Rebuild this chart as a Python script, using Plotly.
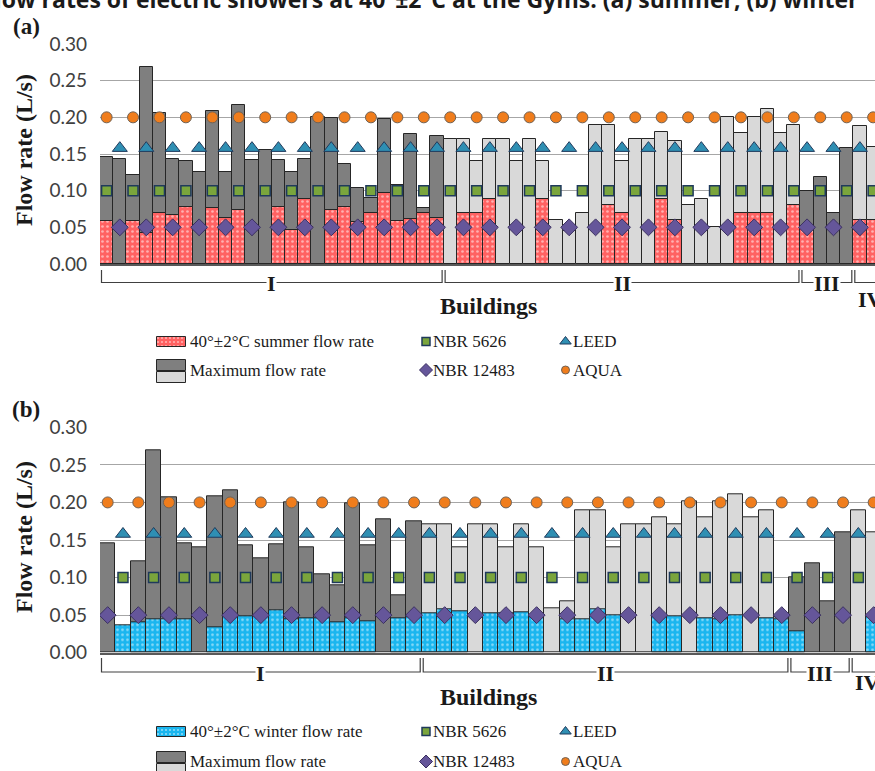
import plotly.graph_objects as go

W, H = 875, 771

# ---------------- data ----------------
buildings = ["I", "II", "III", "IV"]

# (a) summer
summer_counts = [26, 27, 4, 2]
summer_40 = [0.059, None, 0.059, 0.042, 0.070, 0.067, 0.078, None, 0.076, 0.063, 0.074, None, None,
             0.078, 0.046, 0.088, None, 0.074, 0.078, 0.057, 0.070, 0.097, 0.059, 0.061, 0.070, 0.063,
             None, 0.070, 0.070, 0.089, None, None, None, 0.089, None, None, None, None, 0.080, 0.069,
             None, None, 0.088, 0.060, None, None, None, None, 0.069, 0.069, 0.069, None, 0.080,
             0.051, None, None, None,
             0.060, 0.060]
summer_max = [0.146, 0.143, 0.121, 0.268, 0.206, 0.143, 0.140, 0.125, 0.208, 0.125, 0.217, 0.142, 0.156,
              0.142, 0.125, 0.143, 0.201, 0.199, 0.137, 0.104, 0.090, 0.198, 0.108, 0.177, 0.077, 0.175,
              0.170, 0.170, 0.140, 0.170, 0.170, 0.140, 0.170, 0.140, 0.060, 0.045, 0.070, 0.189, 0.189,
              0.140, 0.170, 0.170, 0.180, 0.168, 0.080, 0.088, 0.051, 0.200, 0.179, 0.200, 0.211, 0.179, 0.189,
              0.099, 0.118, 0.070, 0.158,
              0.188, 0.160]

# (b) winter
winter_counts = [21, 24, 4, 2]
winter_40 = [None, 0.036, 0.040, 0.044, 0.044, 0.044, None, 0.034, 0.050, 0.048, 0.048, 0.056, 0.045,
             0.046, 0.046, 0.040, 0.046, 0.042, None, 0.046, 0.047,
             0.052, 0.058, 0.055, None, 0.052, 0.053, 0.054, 0.047, None, 0.044, 0.044, 0.058, 0.050,
             None, None, 0.048, 0.048, None, 0.046, 0.045, 0.050, None, 0.046, 0.045,
             0.028, None, None, None,
             None, 0.047]
winter_max = [0.145, None, 0.121, 0.269, 0.207, 0.145, 0.140, 0.208, 0.216, 0.143, 0.125, 0.144, 0.200,
              0.140, 0.105, 0.090, 0.199, 0.143, 0.178, 0.077, 0.175,
              0.171, 0.171, 0.140, 0.171, 0.171, 0.140, 0.171, 0.140, 0.059, 0.069, 0.190, 0.190, 0.140,
              0.171, 0.171, 0.180, 0.171, 0.201, 0.180, 0.201, 0.211, 0.180, 0.190, 0.047,
              0.100, 0.119, 0.069, 0.160,
              0.190, 0.160]

# reference standards (L/s)
standards = {"NBR 5626": 0.10, "LEED": 0.158, "NBR 12483": 0.05, "AQUA": 0.20}

# ---------------- styles ----------------
RED = "#ff6262"
BLUE = "#1ab6ef"
DARK = "#7f7f7f"
LIGHT = "#d9d9d9"
EDGE = "#262626"
SERIF = "Liberation Serif"

MSTYLE = {
    "AQUA": dict(symbol="circle", size=11, color="#f07d1c", line=dict(color="#6f6256", width=1)),
    "LEED": dict(symbol="triangle-up", size=13, color="#2f8fb3", line=dict(color="#1f3a5c", width=1)),
    "NBR 5626": dict(symbol="square", size=10, color="#7aa53c", line=dict(color="#1f3a5c", width=1.5)),
    "NBR 12483": dict(symbol="diamond", size=13, color="#65569a", line=dict(color="#3b3060", width=1)),
}
LEG_SIZE = {"AQUA": 8, "LEED": 10, "NBR 5626": 8, "NBR 12483": 10}

PL, PR = 100, 875  # plot left / right in px


def px(x, y):
    return x / W, 1 - y / H


def note(xp, yp, text, size, family=SERIF, xanchor="center", yanchor="middle", **kw):
    d = dict(x=xp / W, y=1 - yp / H, xref="paper", yref="paper", text=text, showarrow=False,
             xanchor=xanchor, yanchor=yanchor, font=dict(family=family, size=size, color="#1a1a1a"))
    d.update(kw)
    return d


panels = [
    dict(name="a", counts=summer_counts, v40=summer_40, vmax=summer_max, color40=RED,
         label40="40°±2°C summer flow rate", pitch=13.216, y0=264, y30=44,
         even=["AQUA", "NBR 5626"], odd=["LEED", "NBR 12483"],
         brk_top=270, brk_line=282.5, iv_y=300, bld_y=306, tag_y=27, ytitle_y=150,
         leg_rows=(341.5, 370), xa="x", ya="y"),
    dict(name="b", counts=winter_counts, v40=winter_40, vmax=winter_max, color40=BLUE,
         label40="40°±2°C winter flow rate", pitch=15.32, y0=652.7, y30=427.3,
         even=["AQUA", "NBR 12483"], odd=["LEED", "NBR 5626"],
         brk_top=658, brk_line=672, iv_y=682, bld_y=697, tag_y=409, ytitle_y=537,
         leg_rows=(731.5, 761.5), xa="x2", ya="y2"),
]

fig = go.Figure()
shapes, annotations = [], []

for p in panels:
    n = len(p["vmax"])
    idx = list(range(n))
    gray = []
    for g, c in enumerate(p["counts"]):
        gray += [DARK if g % 2 == 0 else LIGHT] * c
    fig.add_trace(go.Bar(x=idx, y=p["vmax"], marker=dict(color=gray, line=dict(color=EDGE, width=1)),
                         xaxis=p["xa"], yaxis=p["ya"], showlegend=False))
    fig.add_trace(go.Bar(x=idx, y=p["v40"],
                         marker=dict(color=p["color40"], line=dict(color=EDGE, width=1),
                                     pattern=dict(shape=".", fgcolor="white", size=5, solidity=0.22,
                                                  fillmode="overlay")),
                         xaxis=p["xa"], yaxis=p["ya"], showlegend=False))
    for key in p["even"] + p["odd"]:
        sel = [i for i in idx if (i % 2 == 0) == (key in p["even"])]
        fig.add_trace(go.Scatter(x=sel, y=[standards[key]] * len(sel), mode="markers",
                                 marker=MSTYLE[key], xaxis=p["xa"], yaxis=p["ya"], showlegend=False))

    # axes
    xr = [-0.5, -0.5 + (PR - PL) / p["pitch"]]
    yd = [1 - p["y0"] / H, 1 - p["y30"] / H]
    xname = "xaxis" if p["xa"] == "x" else "xaxis2"
    yname = "yaxis" if p["ya"] == "y" else "yaxis2"
    fig.update_layout(**{
        xname: dict(domain=[PL / W, 1], range=xr, anchor=p["ya"], showline=True, linecolor="#595959",
                    linewidth=1.5, ticks="", showticklabels=False, showgrid=False, zeroline=False,
                    automargin=False),
        yname: dict(domain=yd, range=[0, 0.30], anchor=p["xa"], tickvals=[0, 0.05, 0.10, 0.15, 0.20, 0.25, 0.30],
                    tickformat=".2f", showgrid=True, gridcolor="#a6a6a6", gridwidth=1, zeroline=False,
                    showline=False, ticks="", ticklabelstandoff=12, automargin=False,
                    tickfont=dict(family="Lato", size=19, color="#404040")),
    })

    def xpix(i):
        return PL + (i - xr[0]) * p["pitch"]

    # building brackets
    start = 0
    for g, c in enumerate(p["counts"]):
        s_px = xpix(start - 0.5) + 1.5
        e_px = xpix(start + c - 0.5) - 1.5
        path = "M {} {} L {} {} L {} {} L {} {}".format(
            *px(s_px, p["brk_top"]), *px(s_px, p["brk_line"]), *px(e_px, p["brk_line"]), *px(e_px, p["brk_top"]))
        shapes.append(dict(type="path", xref="paper", yref="paper", path=path,
                           line=dict(color="#404040", width=1.2)))
        center = start + (c - 1) / 2
        if xpix(center) < PR - 20:
            annotations.append(dict(x=center, xref=p["xa"], y=1 - (p["brk_line"] + 1) / H, yref="paper",
                                    xanchor="center", yanchor="middle",
                                    text="<b>%s</b>" % buildings[g], showarrow=False, bgcolor="white",
                                    borderpad=0, font=dict(family=SERIF, size=22, color="#1a1a1a")))
        else:
            annotations.append(note(s_px + 1, p["iv_y"], "<b>%s</b>" % buildings[g], 22, xanchor="left"))
        start += c

    # texts
    annotations.append(note(488, p["bld_y"], "<b>Buildings</b>", 24))
    annotations.append(note(26, p["tag_y"], "<b>(%s)</b>" % p["name"], 23))
    annotations.append(note(24, p["ytitle_y"], "<b>Flow rate (L/s)</b>", 24, textangle=-90))

    # legend (drawn on pixel overlay axis)
    r1, r2 = p["leg_rows"]
    sw_x, sw_w = 171.5, 29
    fig.add_trace(go.Bar(x=[sw_x], y=[10], base=[r1 - 5], width=[sw_w], xaxis="x3", yaxis="y3",
                         marker=dict(color=p["color40"], line=dict(color=EDGE, width=1),
                                     pattern=dict(shape=".", fgcolor="white", size=4, solidity=0.22,
                                                  fillmode="overlay")), showlegend=False))
    fig.add_trace(go.Bar(x=[sw_x, sw_x], y=[11, 11], base=[r2 - 10, r2 + 2], width=[sw_w, sw_w],
                         xaxis="x3", yaxis="y3", showlegend=False,
                         marker=dict(color=[DARK, LIGHT], line=dict(color=EDGE, width=1))))
    leg_items = [(p["label40"], None, 188, r1), ("Maximum flow rate", None, 188, r2),
                 ("NBR 5626", "NBR 5626", 426, r1), ("NBR 12483", "NBR 12483", 426, r2),
                 ("LEED", "LEED", 565.5, r1), ("AQUA", "AQUA", 565.5, r2)]
    for text, key, lx, ly in leg_items:
        tx = lx
        if key is not None:
            st = dict(MSTYLE[key])
            st["size"] = LEG_SIZE[key]
            fig.add_trace(go.Scatter(x=[lx], y=[ly], mode="markers", marker=st, xaxis="x3", yaxis="y3",
                                     showlegend=False))
            tx = lx + 5
        annotations.append(note(tx, ly, text, 17, xanchor="left"))

# cut-off caption at the very top
annotations.append(note(860, -1, "<b>Flow rates of electric showers at 40°±2°C at the Gyms: (a) summer; (b) winter</b>",
                        23, family="Open Sans", xanchor="right", yanchor="middle"))

fig.update_layout(
    width=W, height=H, autosize=False,
    margin=dict(l=0, r=0, t=0, b=0, autoexpand=False),
    paper_bgcolor="white", plot_bgcolor="rgba(0,0,0,0)",
    barmode="overlay", bargap=0,
    showlegend=False,
    xaxis3=dict(domain=[0, 1], range=[0, W], anchor="y3", visible=False, fixedrange=True, automargin=False),
    yaxis3=dict(domain=[0, 1], range=[H, 0], anchor="x3", visible=False, fixedrange=True, automargin=False),
    shapes=shapes, annotations=annotations,
)

fig.write_html("out.html")
